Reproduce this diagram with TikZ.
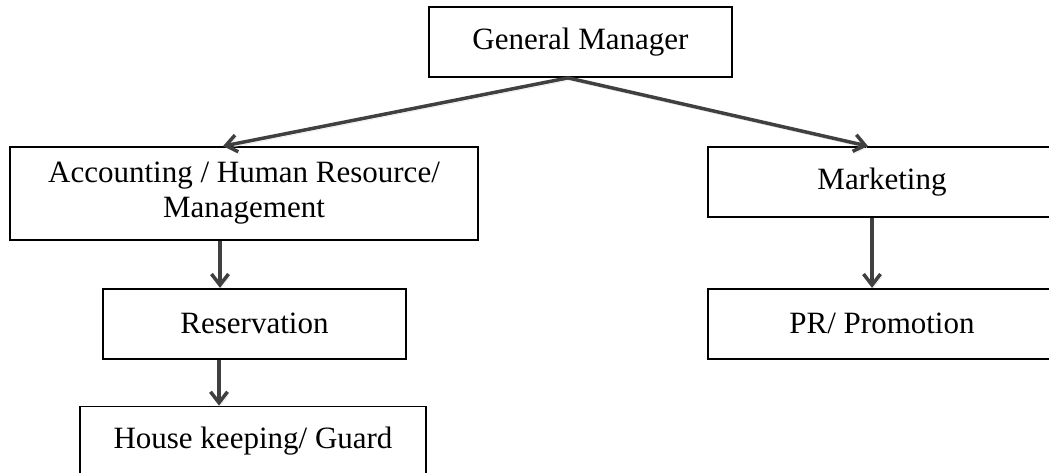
\documentclass[tikz,border=0pt]{standalone}
\usepackage{fontspec}
\setmainfont{Liberation Serif}
\usetikzlibrary{arrows.meta, positioning}
\tikzset{
    >={Straight Barb[length=11pt, width=17pt]},
    % Shapes
    post/.style={rectangle, draw=black, line width=1.75pt, align=center,
                 minimum height=70pt, font=\fontsize{31}{35}\selectfont},
    % Flow
    flow/.style={->, line width=3.5pt, draw=black!75,
                 preaction={draw=black!12, transform canvas={shift={(1.5pt,-2.5pt)}}}}
}

\begin{document}
\begin{tikzpicture}[x=1pt, y=-1pt]
\useasboundingbox (0,0) rectangle (1049,472);

% Top
\node[post, minimum width=303pt] (gm) at (580.5,42) {General Manager};

% Left branch
\node[post, minimum width=468pt, minimum height=93pt] (acc) at (244,193.5) {Accounting / Human Resource/\\Management};
\node[post, minimum width=303pt, below=47pt of acc, xshift=10.5pt] (res) {Reservation};
\node[post, minimum width=346pt, below=46pt of res, xshift=-1.5pt] (hk) {House keeping/ Guard};

% Right branch
\node[post, minimum width=348pt] (mkt) at (882,182) {Marketing};
\node[post, minimum width=348pt, below=70pt of mkt] (pr) {PR/ Promotion};

\draw[flow] ([xshift=-12.5pt]gm.south) -- ([xshift=-21pt]acc.north);
\draw[flow] ([xshift=-12.5pt]gm.south) -- ([xshift=-14pt]mkt.north);
\draw[flow] ([xshift=-24pt]acc.south) -- ([xshift=-24pt]acc.south |- res.north);
\draw[flow] ([xshift=-35.5pt]res.south) -- ([xshift=-35.5pt]res.south |- hk.north);
\draw[flow] ([xshift=-10pt]mkt.south) -- ([xshift=-10pt]mkt.south |- pr.north);

\end{tikzpicture}
\end{document}
